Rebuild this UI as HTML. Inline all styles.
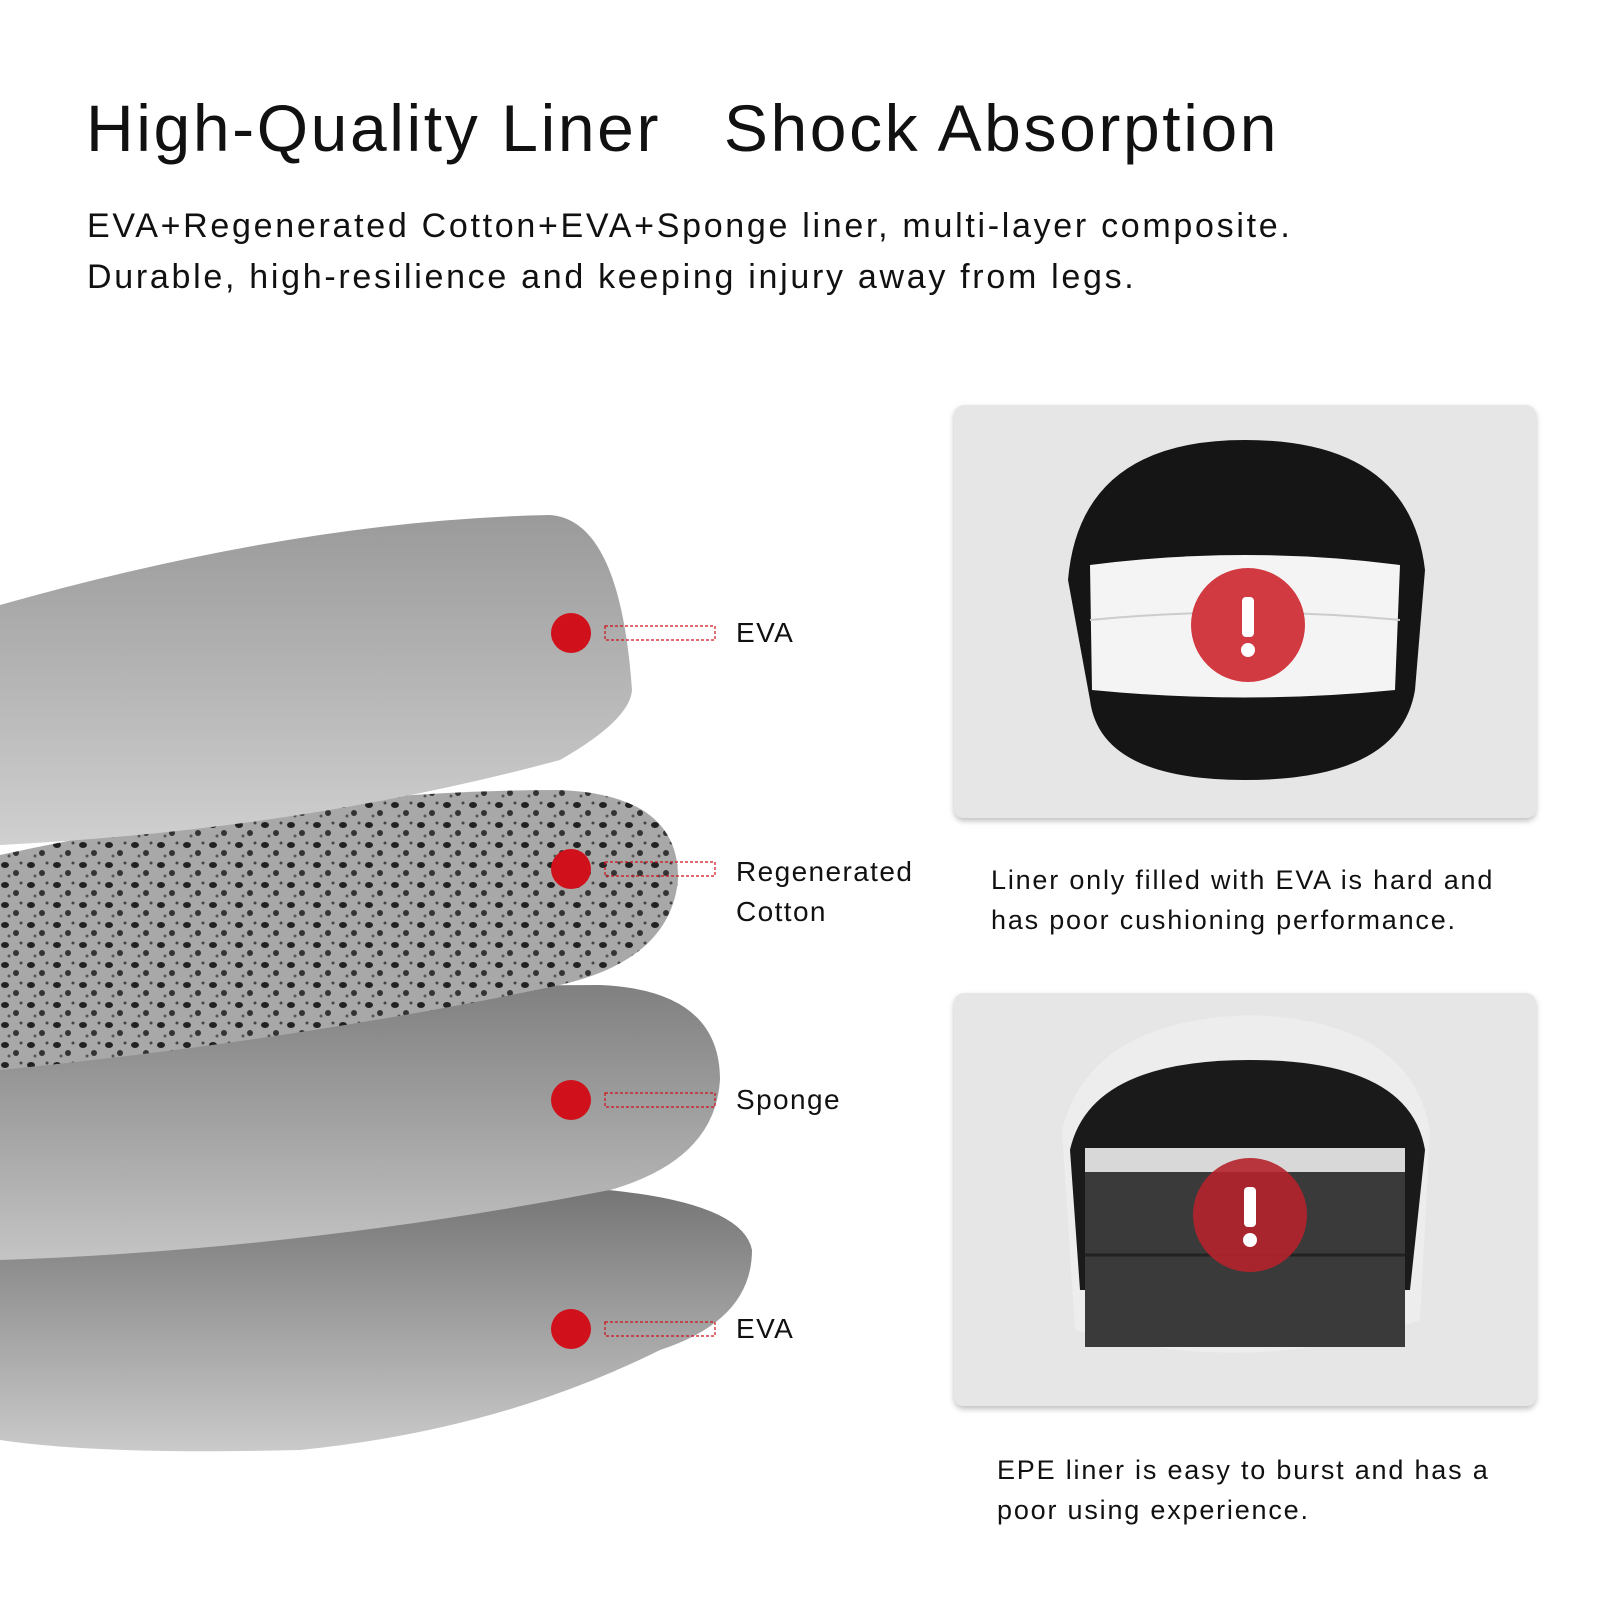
<!DOCTYPE html>
<html><head><meta charset="utf-8"><style>
body{margin:0;width:1600px;height:1600px;background:#fff;overflow:hidden;position:relative;font-family:"Liberation Sans",sans-serif;color:#111}
.t{position:absolute;white-space:nowrap}
</style></head><body>
<svg width="1600" height="1600" style="position:absolute;left:0;top:0">
<defs>
<linearGradient id="g1" x1="0" y1="0" x2="0" y2="1"><stop offset="0" stop-color="#9a9a9a"/><stop offset="1" stop-color="#d0d0d0"/></linearGradient>
<linearGradient id="g3" x1="0" y1="0" x2="0" y2="1"><stop offset="0" stop-color="#808080"/><stop offset="1" stop-color="#c4c4c4"/></linearGradient>
<linearGradient id="g4" x1="0" y1="0" x2="0" y2="1"><stop offset="0" stop-color="#727272"/><stop offset="1" stop-color="#cacaca"/></linearGradient>
<pattern id="sp" width="26" height="20" patternUnits="userSpaceOnUse"><rect width="26" height="20" fill="#a8a8a8"/><ellipse cx="5" cy="5" rx="4" ry="3" fill="#222"/><circle cx="16" cy="13" r="3" fill="#333"/><circle cx="21" cy="3" r="1.5" fill="#444"/><circle cx="9" cy="16" r="1.5" fill="#555"/></pattern>
<filter id="sh"><feDropShadow dx="0" dy="3" stdDeviation="3" flood-opacity="0.25"/></filter>
</defs>
<path d="M0 1190 Q300 1170 520 1185 Q740 1190 752 1250 Q752 1320 660 1350 Q500 1430 300 1450 Q100 1455 0 1440Z" fill="url(#g4)"/>
<path d="M0 1010 Q350 985 600 985 Q720 990 720 1080 Q715 1160 610 1190 Q300 1250 0 1260Z" fill="url(#g3)"/>
<path d="M0 855 Q300 790 560 790 Q680 795 678 880 Q670 960 560 985 Q300 1040 0 1070Z" fill="url(#sp)"/>
<path d="M0 605 Q300 520 550 515 Q620 520 632 690 Q630 720 560 760 Q300 830 0 845Z" fill="url(#g1)"/>
<g fill="#d0101a">
<circle cx="571" cy="633" r="20"/><circle cx="571" cy="869" r="20"/><circle cx="571" cy="1100" r="20"/><circle cx="571" cy="1329" r="20"/></g>
<g fill="none" stroke="#d0101a" stroke-width="1.2" stroke-dasharray="3 2">
<rect x="605" y="626" width="110" height="14"/><rect x="605" y="862" width="110" height="14"/><rect x="605" y="1093" width="110" height="14"/><rect x="605" y="1322" width="110" height="14"/></g>
<rect x="954" y="405" width="582" height="413" rx="10" fill="#e6e6e6" filter="url(#sh)"/>
<rect x="954" y="993" width="582" height="413" rx="10" fill="#e6e6e6" filter="url(#sh)"/>
<path d="M1068 580 Q1080 440 1245 440 Q1410 440 1425 570 L1415 690 Q1400 780 1245 780 Q1100 780 1090 700Z" fill="#151515"/>
<path d="M1090 565 Q1245 545 1400 565 L1395 690 Q1245 705 1092 690Z" fill="#f4f4f4"/>
<path d="M1090 620 Q1245 605 1400 620" stroke="#ccc" fill="none" stroke-width="2"/>
<circle cx="1248" cy="625" r="57" fill="#d23a42"/>
<rect x="1242" y="597" width="12" height="40" rx="4" fill="#fff"/><circle cx="1248" cy="650" r="7" fill="#fff"/>
<path d="M1062 1130 Q1090 1020 1250 1015 Q1410 1020 1430 1130 L1420 1320 Q1250 1380 1075 1330Z" fill="#ededed"/>
<path d="M1070 1150 Q1090 1060 1250 1060 Q1410 1060 1425 1150 L1410 1290 L1080 1290Z" fill="#1a1a1a"/>
<rect x="1085" y="1148" width="320" height="25" fill="#d8d8d8"/>
<rect x="1085" y="1172" width="320" height="175" fill="#3a3a3a"/>
<path d="M1085 1255 H1405" stroke="#222" stroke-width="3"/>
<circle cx="1250" cy="1215" r="57" fill="#b5232c" opacity="0.9"/>
<rect x="1244" y="1187" width="12" height="40" rx="4" fill="#fff"/><circle cx="1250" cy="1240" r="7" fill="#fff"/>
</svg>
<div class="t" style="left:86px;top:90px;font-size:66px;letter-spacing:2.6px">High-Quality Liner&nbsp;&nbsp;&nbsp;Shock Absorption</div>
<div class="t" style="left:87px;top:201px;font-size:34px;line-height:51px;letter-spacing:2.7px">EVA+Regenerated Cotton+EVA+Sponge liner, multi-layer composite.<br>Durable, high-resilience and keeping injury away from legs.</div>
<div class="t" style="left:736px;top:617px;font-size:28px;letter-spacing:1.4px">EVA</div>
<div class="t" style="left:736px;top:852px;font-size:28px;line-height:40px;letter-spacing:1.4px">Regenerated<br>Cotton</div>
<div class="t" style="left:736px;top:1084px;font-size:28px;letter-spacing:1.4px">Sponge</div>
<div class="t" style="left:736px;top:1313px;font-size:28px;letter-spacing:1.4px">EVA</div>
<div class="t" style="left:991px;top:860px;font-size:27px;line-height:40px;letter-spacing:1.8px">Liner only filled with EVA is hard and<br>has poor cushioning performance.</div>
<div class="t" style="left:997px;top:1450px;font-size:27px;line-height:40px;letter-spacing:1.8px">EPE liner is easy to burst and has a<br>poor using experience.</div>
</body></html>
